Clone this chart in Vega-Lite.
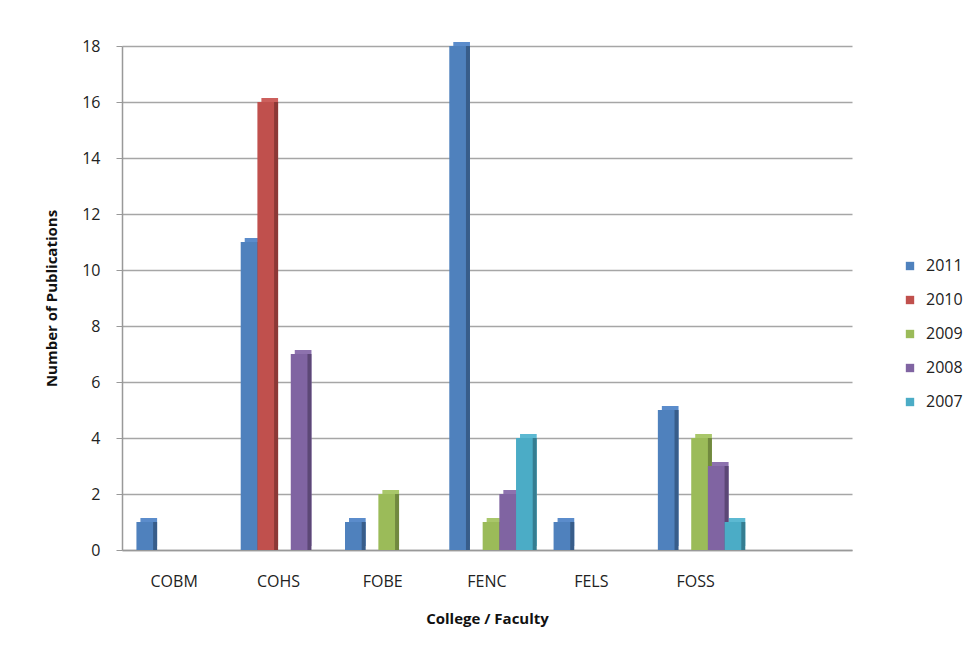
{
  "$schema": "https://vega.github.io/schema/vega-lite/v6.json",
  "width": 730,
  "height": 504,
  "autosize": {"type": "none"},
  "padding": {"left": 122, "top": 46, "right": 120, "bottom": 100},
  "background": "white",
  "config": {"view": {"stroke": null}, "font": "Open Sans"},
  "data": {
    "values": [
      {"college": "COBM", "year": "2011", "count": 1},
      {"college": "COBM", "year": "2010", "count": 0},
      {"college": "COBM", "year": "2009", "count": 0},
      {"college": "COBM", "year": "2008", "count": 0},
      {"college": "COBM", "year": "2007", "count": 0},
      {"college": "COHS", "year": "2011", "count": 11},
      {"college": "COHS", "year": "2010", "count": 16},
      {"college": "COHS", "year": "2009", "count": 0},
      {"college": "COHS", "year": "2008", "count": 7},
      {"college": "COHS", "year": "2007", "count": 0},
      {"college": "FOBE", "year": "2011", "count": 1},
      {"college": "FOBE", "year": "2010", "count": 0},
      {"college": "FOBE", "year": "2009", "count": 2},
      {"college": "FOBE", "year": "2008", "count": 0},
      {"college": "FOBE", "year": "2007", "count": 0},
      {"college": "FENC", "year": "2011", "count": 18},
      {"college": "FENC", "year": "2010", "count": 0},
      {"college": "FENC", "year": "2009", "count": 1},
      {"college": "FENC", "year": "2008", "count": 2},
      {"college": "FENC", "year": "2007", "count": 4},
      {"college": "FELS", "year": "2011", "count": 1},
      {"college": "FELS", "year": "2010", "count": 0},
      {"college": "FELS", "year": "2009", "count": 0},
      {"college": "FELS", "year": "2008", "count": 0},
      {"college": "FELS", "year": "2007", "count": 0},
      {"college": "FOSS", "year": "2011", "count": 5},
      {"college": "FOSS", "year": "2010", "count": 0},
      {"college": "FOSS", "year": "2009", "count": 4},
      {"college": "FOSS", "year": "2008", "count": 3},
      {"college": "FOSS", "year": "2007", "count": 1}
    ]
  },
  "encoding": {
    "x": {
      "field": "college",
      "type": "nominal",
      "sort": null,
      "scale": {"domain": ["COBM", "COHS", "FOBE", "FENC", "FELS", "FOSS", ""], "paddingInner": 0.2, "paddingOuter": 0.1},
      "axis": {
        "title": "College / Faculty",
        "titleFontSize": 15,
        "titleFontWeight": "bold",
        "titleColor": "#111",
        "titlePadding": 22,
        "labelAngle": 0,
        "labelFontSize": 16,
        "labelColor": "#222",
        "labelPadding": 23,
        "ticks": false,
        "domainColor": "#999",
        "domainWidth": 1.5
      }
    },
    "y": {
      "field": "count",
      "type": "quantitative",
      "scale": {"domain": [0, 18], "nice": false},
      "axis": {
        "title": "Number of Publications",
        "titleFontSize": 15,
        "titleFontWeight": "bold",
        "titleColor": "#111",
        "titlePadding": 22,
        "values": [0, 2, 4, 6, 8, 10, 12, 14, 16, 18],
        "labelFontSize": 16,
        "labelColor": "#222",
        "labelPadding": 16,
        "tickSize": 6,
        "tickColor": "#999",
        "domainColor": "#999",
        "domainWidth": 1.5,
        "gridColor": "#a6a6a6",
        "gridWidth": 1.5
      }
    }
  },
  "layer": [
    {
      "mark": {"type": "bar", "yOffset": -4},
      "encoding": {
        "xOffset": {"field": "year", "type": "nominal", "sort": null, "scale": {"domain": ["2011", "2010", "2009", "2008", "2007"], "range": [8, 91.43]}},
        "color": {"field": "year", "type": "nominal", "sort": null,
          "scale": {"domain": ["2011", "2010", "2009", "2008", "2007"], "range": ["#5b8ccb", "#cc5f5c", "#a9c76a", "#8d72ae", "#5cb9d2"]},
          "legend": null}
      }
    },
    {
      "mark": {"type": "bar"},
      "encoding": {
        "xOffset": {"field": "year", "type": "nominal", "sort": null, "scale": {"domain": ["2011", "2010", "2009", "2008", "2007"], "range": [8, 91.43]}},
        "color": {"field": "year", "type": "nominal", "sort": null,
          "scale": {"domain": ["2011", "2010", "2009", "2008", "2007"], "range": ["#385d8a", "#8c3836", "#71893f", "#5c4776", "#357d91"]},
          "legend": null}
      }
    },
    {
      "mark": {"type": "bar"},
      "encoding": {
        "xOffset": {"field": "year", "type": "nominal", "sort": null, "scale": {"domain": ["2011", "2010", "2009", "2008", "2007"], "range": [4, 87.43]}},
        "color": {"field": "year", "type": "nominal", "sort": null,
          "scale": {"domain": ["2011", "2010", "2009", "2008", "2007"], "range": ["#4f81bd", "#c0504d", "#9bbb59", "#8064a2", "#4bacc6"]},
          "legend": {
            "title": null,
            "orient": "none",
            "legendX": 780,
            "legendY": 212,
            "symbolType": "square",
            "symbolSize": 70,
            "symbolStrokeWidth": 0,
            "labelFontSize": 16,
            "labelColor": "#222",
            "rowPadding": 18,
            "labelOffset": 8
          }
        }
      }
    }
  ],
  "resolve": {"scale": {"color": "independent", "xOffset": "independent"}, "legend": {"color": "independent"}}
}
